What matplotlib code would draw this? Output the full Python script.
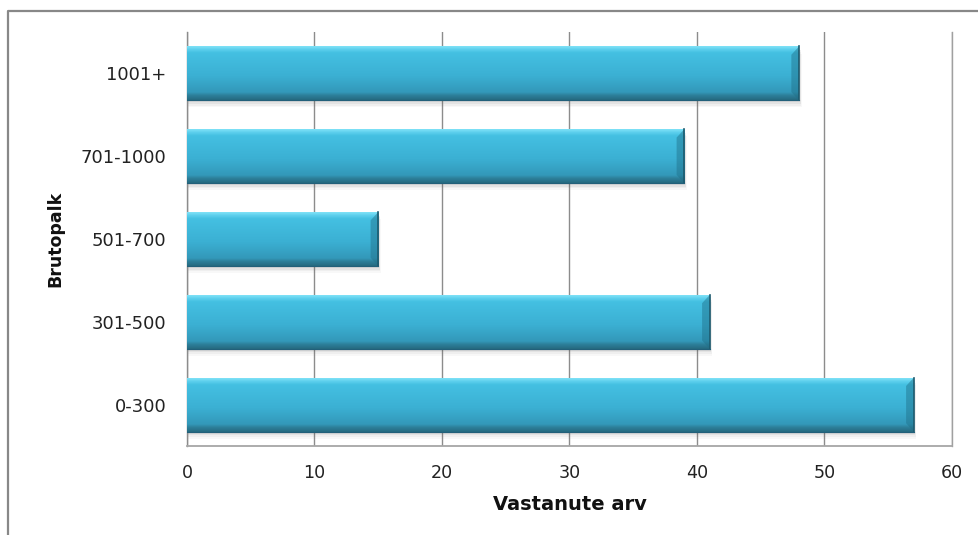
import numpy as np
import matplotlib
matplotlib.use('Agg')
import matplotlib.pyplot as plt
from matplotlib.lines import Line2D
from matplotlib.patches import Rectangle, Polygon
from matplotlib.colors import LinearSegmentedColormap

plt.rcParams['font.family'] = ['DejaVu Sans']

### Data ###
categories = ['0-300', '301-500', '501-700', '701-1000', '1001+']
counts = [57, 41, 15, 39, 48]
x_ticks = [0, 10, 20, 30, 40, 50, 60]

W, H = 979, 535
fig = plt.figure(figsize=(W / 100, H / 100), dpi=100)
fig.patch.set_facecolor('white')

# plot area in pixels: left 187, right 952, top 32, bottom 446
ax = fig.add_axes([187 / W, 1 - 446 / H, (952 - 187) / W, (446 - 32) / H])
ax.set_xlim(0, 60)
ax.set_ylim(-0.5, len(categories) - 0.5)
ax.set_axisbelow(True)

# gridlines
ax.set_xticks(x_ticks)
ax.xaxis.grid(True, color='#8c8c8c', lw=1.0)
ax.yaxis.grid(False)

ax.spines['top'].set_visible(False)
ax.spines['right'].set_color('#a0a0a0')
ax.spines['left'].set_color('#8c8c8c')
ax.spines['bottom'].set_color('#a6a6a6')
ax.spines['left'].set_linewidth(1.0)
ax.spines['right'].set_linewidth(1.0)
ax.spines['bottom'].set_linewidth(1.3)

ax.set_yticks(range(len(categories)))
ax.set_yticklabels(categories)
ax.tick_params(axis='y', length=0, pad=15, labelsize=13, labelcolor='#222222')
ax.tick_params(axis='x', length=0, pad=13, labelsize=12.6, labelcolor='#222222')

# bars (plain, then dressed up with a bevel gradient)
bars = ax.barh(range(len(categories)), counts, height=0.65, color='none', zorder=3)

grad_cmap = LinearSegmentedColormap.from_list('bevel', [
    (0.00, '#7fe2f7'),
    (0.06, '#5ccfed'),
    (0.12, '#44c0e2'),
    (0.55, '#3bb0d3'),
    (0.86, '#3398b9'),
    (0.91, '#2d819c'),
    (1.00, '#266a80'),
])
grad = np.linspace(0, 1, 200).reshape(-1, 1)

for b in bars:
    x0, y0 = b.get_x(), b.get_y()
    w, h = b.get_width(), b.get_height()
    # soft shadow
    for k, a in enumerate([0.10, 0.08, 0.06, 0.04]):
        off = 0.025 + 0.02 * k
        ax.add_patch(Rectangle((x0, y0 - off), w + 0.08 + 0.04 * k, h,
                               color='#606060', alpha=a, lw=0, zorder=2))
    ax.imshow(grad, cmap=grad_cmap, aspect='auto', origin='upper',
              extent=(x0, x0 + w, y0, y0 + h), zorder=3, interpolation='bilinear')
    # right-hand bevel
    bw = 0.6
    bh = 0.1
    ax.add_patch(Polygon([(x0 + w - bw, y0 + h - bh), (x0 + w, y0 + h),
                          (x0 + w, y0), (x0 + w - bw, y0 + bh)],
                         closed=True, color='#1f6f88', alpha=0.45, lw=0, zorder=4))
    ax.plot([x0 + w, x0 + w], [y0, y0 + h], color='#1d5a6e', lw=1.2, zorder=5)
    ax.plot([x0, x0 + w], [y0, y0], color='#22607a', lw=0.8, zorder=5)

ax.set_xlim(0, 60)
ax.set_ylim(-0.5, len(categories) - 0.5)

# axis titles
fig.text(569.5 / W, 1 - 504 / H, 'Vastanute arv', ha='center', va='center',
         fontsize=14, fontweight='bold', color='#111111')
fig.text(55 / W, 1 - 239 / H, 'Brutopalk', ha='center', va='center',
         rotation=90, fontsize=12.5, fontweight='bold', color='#111111')

# outer chart frame (cut off at right and bottom)
fig.add_artist(Line2D([8.5 / W, 8.5 / W, 1.0], [0.0, 1 - 10.5 / H, 1 - 10.5 / H],
                      color='#888888', lw=1.6))

fig.savefig('out.png', dpi=100, facecolor='white')
